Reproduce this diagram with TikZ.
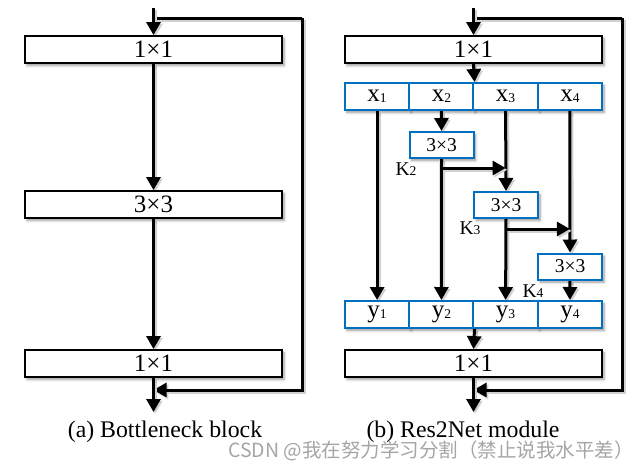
\documentclass[tikz,border=0pt]{standalone}
\usepackage{fontspec}
\setmainfont{Liberation Serif}
\newfontfamily\cjkfont{Noto Sans CJK SC}
\usetikzlibrary{arrows.meta,shadows.blur,backgrounds}
\definecolor{boxblue}{RGB}{0,112,192}
\definecolor{wmgray}{RGB}{165,165,165}
\tikzset{
  shad/.style={blur shadow={shadow xshift=2pt,shadow yshift=-2.5pt,shadow blur radius=2.5pt,shadow blur steps=6,shadow opacity=40}},
  bigbox/.style={draw=black,line width=1.8pt,fill=white,minimum width=257pt,minimum height=27pt,inner sep=0pt,font=\fontsize{25}{25}\selectfont,shad},
  cellbox/.style={draw=boxblue,line width=2pt,fill=white,minimum width=64.25pt,minimum height=27pt,inner sep=0pt,font=\fontsize{25}{25}\selectfont,shad},
  convbox/.style={draw=boxblue,line width=2pt,fill=white,minimum width=64pt,minimum height=26pt,inner sep=0pt,font=\fontsize{19.5}{19.5}\selectfont,shad},
  lshad/.style={preaction={draw=black!18,line width=3.5pt,transform canvas={shift={(1.8pt,-1.8pt)}}}},
  arr/.style={line width=3pt,-{Triangle[width=14pt,length=13pt]},lshad},
  ln/.style={line width=3pt,lshad},
  klab/.style={font=\fontsize{19.5}{19.5}\selectfont,inner sep=0pt},
  captext/.style={font=\fontsize{23.8}{23.8}\selectfont,inner sep=0pt},
}
\newcommand{\sub}[1]{\raisebox{-0.5pt}{\fontsize{13.5}{13.5}\selectfont #1}}
\begin{document}
\begin{tikzpicture}[x=1pt,y=-1pt]
\useasboundingbox (0,0) rectangle (641,469);
% ---------- (a) Bottleneck ----------
\node[bigbox] (a1) at (153.5,49.5) {1×1};
\node[bigbox] (a2) at (153.5,204.5) {3×3};
\node[bigbox] (a3) at (153.5,363.5) {1×1};
\coordinate (ain) at (153.5,8);
\coordinate (askip) at (153.5,18);
\coordinate (atr) at (302,18);
\coordinate (acorner) at (302,390);
\coordinate (aret) at (153.5,390);
\coordinate (aout) at (153.5,412);
\node[captext] (capa) at (165,432) {(a) Bottleneck block};
% ---------- (b) Res2Net ----------
\node[bigbox] (b1) at (473.5,49.5) {1×1};
\node[cellbox] (x1) at (377.1,96.5) {x\sub{1}};
\node[cellbox] (x2) at (441.4,96.5) {x\sub{2}};
\node[cellbox] (x3) at (505.6,96.5) {x\sub{3}};
\node[cellbox] (x4) at (569.9,96.5) {x\sub{4}};
\node[convbox] (c1) at (441.5,145) {3×3};
\node[convbox] (c2) at (506,205) {3×3};
\node[convbox] (c3) at (570,266.5) {3×3};
\node[cellbox] (y1) at (377.1,314.5) {y\sub{1}};
\node[cellbox] (y2) at (441.4,314.5) {y\sub{2}};
\node[cellbox] (y3) at (505.6,314.5) {y\sub{3}};
\node[cellbox] (y4) at (569.9,314.5) {y\sub{4}};
\node[bigbox] (b3) at (473.5,363.5) {1×1};
\coordinate (bin) at (473.5,8);
\coordinate (bskip) at (473.5,18);
\coordinate (btr) at (622,18);
\coordinate (bcorner) at (622,390);
\coordinate (bret) at (473.5,390);
\coordinate (bout) at (473.5,412);
\coordinate (k2) at (c1.south |- 0,168);
\coordinate (k3) at (c2.south |- 0,229);
\node[klab] (lk2) at (406,169) {K\sub{2}};
\node[klab] (lk3) at (470,228) {K\sub{3}};
\node[klab] (lk4) at (533,291) {K\sub{4}};
\node[captext] (capb) at (463,432) {(b) Res2Net module};
% connectors behind the boxes
\begin{scope}[on background layer]
\draw[ln] (askip) -- (atr);
\draw[arr] (atr) -- (acorner) -- (aret);
\draw[arr] (ain) -- (a1.north);
\draw[arr] (a1.south) -- (a2.north);
\draw[arr] (a2.south) -- (a3.north);
\draw[arr] (a3.south) -- (aout);
\draw[ln] (bskip) -- (btr);
\draw[arr] (btr) -- (bcorner) -- (bret);
\draw[arr] (bin) -- (b1.north);
\draw[arr] (b1.south) -- (x2.north east);
\draw[arr] (x1.south) -- (y1.north);
\draw[arr] (x2.south) -- (c1.north);
\draw[arr] (c1.south) -- (y2.north);
\draw[arr] (x3.south) -- (c2.north);
\draw[arr] (c2.south) -- (y3.north);
\draw[arr] (x4.south) -- (c3.north);
\draw[arr] (c3.south) -- (y4.north);
\draw[arr] (k2) -- (x3.south |- k2);
\draw[arr] (k3) -- (x4.south |- k3);
\draw[arr] (y2.south east) -- (b3.north);
\draw[arr] (b3.south) -- (bout);
\end{scope}
% watermark
\node[anchor=west,inner sep=0pt,text=wmgray,font=\cjkfont\fontsize{19.5}{19.5}\selectfont] (wm) at (228,451) {CSDN @我在努力学习分割（禁止说我水平差）};
\end{tikzpicture}
\end{document}
